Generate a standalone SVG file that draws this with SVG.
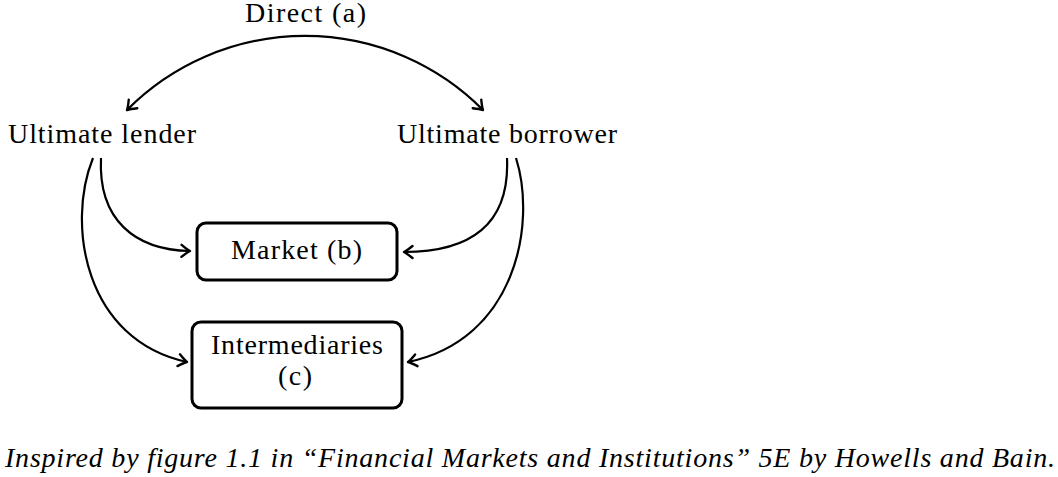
<svg xmlns="http://www.w3.org/2000/svg" width="1058" height="477" viewBox="0 0 1058 477">
<style>
  .lbl { font-family: "Liberation Serif", "Times New Roman", serif; font-size: 28px; fill: #000; }
  .cap { font-family: "Liberation Serif", "Times New Roman", serif; font-size: 28px; font-style: italic; fill: #000; }
  .box { fill: #fff; stroke: #000; stroke-width: 3; }
  .edge { fill: none; stroke: #000; stroke-width: 2.2; marker-end: url(#arr); }
</style>
<defs>
  <marker id="arr" markerUnits="userSpaceOnUse" orient="auto-start-reverse" refX="0" refY="0" markerWidth="20" markerHeight="20" overflow="visible">
    <path d="M-8.5,-6 Q-3,-1.5 0,0 Q-3,1.5 -8.5,6" fill="none" stroke="#000" stroke-width="2.4" stroke-linecap="round" stroke-linejoin="round"/>
  </marker>
</defs>
<rect width="1058" height="477" fill="#fff"/>
<g id="connectors">
  <path class="edge" d="M127,110 A251,251 0 0 1 483,110" marker-start="url(#arr)"/>
  <path class="edge" d="M101,158 C98,220 135,250 190,251"/>
  <path class="edge" d="M93,158 C66,225 85,340 187,362"/>
  <path class="edge" d="M507,158 C510,225 470,252 404,252"/>
  <path class="edge" d="M516,158 C537,225 515,340 408,362"/>
</g>
<g id="direct-label">
  <text class="lbl" x="245" y="22" textLength="121" lengthAdjust="spacing">Direct (a)</text>
</g>
<g id="lender">
  <text class="lbl" x="8" y="143" textLength="188" lengthAdjust="spacing">Ultimate lender</text>
</g>
<g id="borrower">
  <text class="lbl" x="397" y="143" textLength="220" lengthAdjust="spacing">Ultimate borrower</text>
</g>
<g id="market">
  <rect class="box" x="197" y="223" width="200" height="57" rx="9"/>
  <text class="lbl" x="231" y="259" textLength="131" lengthAdjust="spacing">Market (b)</text>
</g>
<g id="intermediaries">
  <rect class="box" x="192" y="322" width="210" height="86" rx="9"/>
  <text class="lbl" x="211" y="354" textLength="172" lengthAdjust="spacing">Intermediaries</text>
  <text class="lbl" x="278" y="385" textLength="34" lengthAdjust="spacing">(c)</text>
</g>
<g id="caption">
  <text class="cap" x="5" y="467" textLength="1050" lengthAdjust="spacing">Inspired by figure 1.1 in “Financial Markets and Institutions” 5E by Howells and Bain.</text>
</g>
</svg>
